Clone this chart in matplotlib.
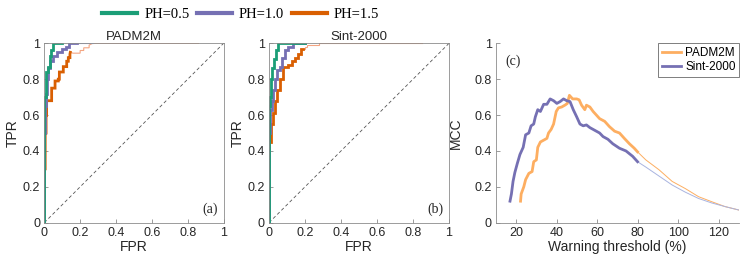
import matplotlib
matplotlib.use("Agg")
import matplotlib.pyplot as plt
from matplotlib.lines import Line2D

plt.rcParams["font.family"] = ["Liberation Sans", "DejaVu Sans"]

# ---- ROC data, PADM2M (a): thick part, then thin continuation ----
a_g_fpr = [0, 0, 0.007, 0.007, 0.02, 0.02, 0.03, 0.03, 0.04, 0.04, 0.05, 0.05, 0.10]
a_g_tpr = [0, 0.70, 0.70, 0.84, 0.84, 0.87, 0.87, 0.93, 0.93, 0.96, 0.96, 1.0, 1.0]
a_p_fpr = [0, 0, 0.005, 0.005, 0.01, 0.01, 0.015, 0.015, 0.02, 0.02, 0.03, 0.03, 0.05, 0.05,
           0.07, 0.07, 0.10, 0.10, 0.12, 0.12, 0.14, 0.14, 0.18]
a_p_tpr = [0, 0.50, 0.50, 0.65, 0.65, 0.72, 0.72, 0.80, 0.80, 0.86, 0.86, 0.90, 0.90, 0.93,
           0.93, 0.95, 0.95, 0.97, 0.97, 0.98, 0.98, 1.0, 1.0]
a_p_thin_fpr = [0.18, 0.27]
a_p_thin_tpr = [1.0, 1.0]
a_o_fpr = [0, 0, 0.005, 0.005, 0.01, 0.01, 0.013, 0.013, 0.041, 0.041, 0.06, 0.06, 0.078, 0.078,
           0.084, 0.084, 0.106, 0.106, 0.125, 0.125, 0.134, 0.134, 0.143, 0.143, 0.145]
a_o_tpr = [0, 0.30, 0.30, 0.50, 0.50, 0.60, 0.60, 0.68, 0.68, 0.75, 0.75, 0.79, 0.79, 0.80,
           0.80, 0.84, 0.84, 0.87, 0.87, 0.90, 0.90, 0.92, 0.92, 0.94, 0.95]
a_o_thin_fpr = [0.145, 0.16, 0.20, 0.20, 0.22, 0.22, 0.25, 0.25, 0.27, 0.86]
a_o_thin_tpr = [0.95, 0.945, 0.945, 0.96, 0.96, 0.975, 0.975, 0.99, 1.0, 1.0]

# ---- ROC data, Sint-2000 (b) ----
b_g_fpr = [0, 0, 0.006, 0.006, 0.011, 0.011, 0.017, 0.017, 0.028, 0.028, 0.039, 0.039, 0.052, 0.052, 0.20]
b_g_tpr = [0, 0.65, 0.65, 0.70, 0.70, 0.80, 0.80, 0.86, 0.86, 0.91, 0.91, 0.96, 0.96, 1.0, 1.0]
b_p_fpr = [0, 0, 0.006, 0.006, 0.015, 0.015, 0.024, 0.024, 0.033, 0.033, 0.043, 0.043, 0.06, 0.06,
           0.07, 0.07, 0.09, 0.09, 0.107, 0.107, 0.135, 0.135, 0.20]
b_p_tpr = [0, 0.50, 0.50, 0.63, 0.63, 0.68, 0.68, 0.74, 0.74, 0.80, 0.80, 0.85, 0.85, 0.87,
           0.87, 0.92, 0.92, 0.96, 0.96, 0.98, 0.98, 1.0, 1.0]
b_o_fpr = [0, 0, 0.009, 0.009, 0.02, 0.02, 0.033, 0.033, 0.043, 0.043, 0.06, 0.06, 0.08, 0.08,
           0.107, 0.107, 0.126, 0.126, 0.144, 0.144, 0.163, 0.163, 0.18, 0.18, 0.19]
b_o_tpr = [0, 0.45, 0.45, 0.55, 0.55, 0.61, 0.61, 0.68, 0.68, 0.74, 0.74, 0.80, 0.80, 0.87,
           0.87, 0.88, 0.88, 0.90, 0.90, 0.92, 0.92, 0.94, 0.94, 0.97, 0.97]
b_o_thin_fpr = [0.19, 0.20, 0.20, 0.21, 0.21, 0.28, 0.28, 0.85]
b_o_thin_tpr = [0.97, 0.97, 0.98, 0.98, 0.99, 0.99, 1.0, 1.0]

# ---- MCC vs warning threshold (c) ----
sint_thr = [16.9, 17.6, 18.4, 19.3, 20.5, 21.8, 23.4, 24.6, 26.2, 27.3, 28.6, 29.4, 30.6, 31.9,
            33.5, 35.1, 36.7, 38.4, 40.0, 41.6, 43.3, 44.9, 46.5, 48.1, 49.8, 51.4, 53.0, 54.6,
            56.3, 57.9, 59.5, 61.1, 62.8, 65.2, 67.6, 70.9, 74.1, 77.4, 79.8]
sint_mcc = [0.12, 0.16, 0.23, 0.28, 0.33, 0.38, 0.42, 0.49, 0.50, 0.54, 0.55, 0.59, 0.63, 0.62,
            0.66, 0.66, 0.69, 0.68, 0.665, 0.675, 0.69, 0.68, 0.675, 0.63, 0.59, 0.55, 0.54, 0.545,
            0.53, 0.52, 0.51, 0.50, 0.48, 0.465, 0.44, 0.415, 0.40, 0.37, 0.34]
sint_thin_thr = [79.8, 83.9, 90.4, 96.9, 103.4, 109.9, 116.4, 122.9, 130.0]
sint_thin_mcc = [0.34, 0.31, 0.26, 0.21, 0.17, 0.135, 0.11, 0.09, 0.07]
padm_thr = [22.1, 22.4, 23.7, 24.6, 26.2, 27.8, 28.6, 29.9, 30.6, 31.9, 33.5, 35.1, 35.9, 37.2,
            38.4, 39.7, 40.8, 42.4, 44.1, 45.2, 46.2, 47.8, 49.8, 51.0, 52.2, 53.8, 54.6, 56.3,
            57.9, 59.5, 61.1, 63.6, 66.0, 68.5, 70.9, 73.3, 75.8, 78.2, 79.8]
padm_mcc = [0.12, 0.16, 0.20, 0.24, 0.275, 0.285, 0.34, 0.35, 0.42, 0.45, 0.46, 0.47, 0.50, 0.52,
            0.55, 0.62, 0.64, 0.645, 0.656, 0.665, 0.71, 0.69, 0.69, 0.685, 0.655, 0.63, 0.655, 0.645,
            0.62, 0.60, 0.58, 0.565, 0.535, 0.51, 0.50, 0.47, 0.44, 0.415, 0.395]
padm_thin_thr = [79.8, 83.9, 90.4, 96.9, 103.4, 109.9, 116.4, 122.9, 130.0]
padm_thin_mcc = [0.395, 0.35, 0.295, 0.23, 0.19, 0.145, 0.117, 0.09, 0.07]

legend_labels = ["PH=0.5", "PH=1.0", "PH=1.5"]
roc_ticks = [0, 0.2, 0.4, 0.6, 0.8, 1]
roc_ticklabels = ["0", "0.2", "0.4", "0.6", "0.8", "1"]

GREEN, PURPLE, ORANGE = "#1b9e77", "#7570b3", "#d95f02"
LPURPLE, LORANGE = "#a9b4e0", "#f4a582"
C_ORANGE = "#fdae61"
SPINE = "#8c8c8c"
TXT = "#262626"
LW = 2.0

fig = plt.figure(figsize=(7.47, 2.66), dpi=100)
ax_a = fig.add_axes([0.0593, 0.1628, 0.2400, 0.6744])
ax_b = fig.add_axes([0.3601, 0.1628, 0.2410, 0.6744])
ax_c = fig.add_axes([0.6640, 0.1628, 0.3257, 0.6744])


def style_axes(ax, box=True):
    ax.tick_params(direction="in", length=3, width=0.6, colors=SPINE,
                   labelcolor=TXT, labelsize=9, pad=3)
    for name, sp in ax.spines.items():
        sp.set_color(SPINE)
        sp.set_linewidth(0.6)
        if not box and name in ("top", "right"):
            sp.set_visible(False)


def roc_panel(ax, curves, title, tag):
    ax.plot([0, 1], [0, 1], ls=(0, (4, 3)), color="#555555", lw=0.6)
    for fpr, tpr, col, lw in curves:
        ax.plot(fpr, tpr, color=col, lw=lw, solid_joinstyle="miter")
    ax.set_xlim(0, 1)
    ax.set_ylim(0, 1)
    ax.set_xticks(roc_ticks)
    ax.set_xticklabels(roc_ticklabels)
    ax.set_yticks(roc_ticks)
    ax.set_yticklabels(roc_ticklabels)
    ax.set_xlabel("FPR", fontsize=10, color=TXT, labelpad=1)
    ax.set_ylabel("TPR", fontsize=10, color=TXT, labelpad=2)
    ax.set_title(title, fontsize=9.5, color=TXT, pad=2)
    ax.text(0.97, 0.04, tag, transform=ax.transAxes, ha="right", va="bottom",
            fontsize=10, family=["Liberation Serif", "DejaVu Serif"], color=TXT)
    style_axes(ax)


roc_panel(ax_a, [
    (a_o_thin_fpr, a_o_thin_tpr, LORANGE, 0.8),
    (a_p_thin_fpr, a_p_thin_tpr, LPURPLE, 0.8),
    (a_o_fpr, a_o_tpr, ORANGE, LW),
    (a_p_fpr, a_p_tpr, PURPLE, LW),
    (a_g_fpr, a_g_tpr, GREEN, LW),
], "PADM2M", "(a)")

roc_panel(ax_b, [
    (b_o_thin_fpr, b_o_thin_tpr, LORANGE, 0.8),
    (b_o_fpr, b_o_tpr, ORANGE, LW),
    (b_p_fpr, b_p_tpr, PURPLE, LW),
    (b_g_fpr, b_g_tpr, GREEN, LW),
], "Sint-2000", "(b)")

# panel (c)
ax_c.plot(padm_thin_thr, padm_thin_mcc, color=C_ORANGE, lw=0.7)
ax_c.plot(sint_thin_thr, sint_thin_mcc, color=LPURPLE, lw=0.7)
l1, = ax_c.plot(padm_thr, padm_mcc, color=C_ORANGE, lw=LW, label="PADM2M")
l2, = ax_c.plot(sint_thr, sint_mcc, color=PURPLE, lw=LW, label="Sint-2000")
ax_c.set_xlim(10, 130)
ax_c.set_ylim(0, 1)
ax_c.set_xticks([20, 40, 60, 80, 100, 120])
ax_c.set_yticks(roc_ticks)
ax_c.set_yticklabels(roc_ticklabels)
ax_c.set_xlabel("Warning threshold (%)", fontsize=10, color=TXT, labelpad=1)
ax_c.set_ylabel("MCC", fontsize=10, color=TXT, labelpad=8)
ax_c.text(0.04, 0.94, "(c)", transform=ax_c.transAxes, ha="left", va="top",
          fontsize=10, family=["Liberation Serif", "DejaVu Serif"], color=TXT)
style_axes(ax_c, box=False)
leg_c = ax_c.legend(handles=[l1, l2], loc="upper right", fontsize=8.5, frameon=True,
                    fancybox=False, handlelength=1.6, handletextpad=0.4,
                    borderpad=0.3, labelspacing=0.2, borderaxespad=0.0)
leg_c.get_frame().set_edgecolor("#444444")
leg_c.get_frame().set_linewidth(0.6)

# top legend for PH
handles = [Line2D([], [], color=c, lw=3) for c in (GREEN, PURPLE, ORANGE)]
fig.legend(handles, legend_labels, loc="center", bbox_to_anchor=(0.322, 0.945), ncol=3,
           frameon=False, handlelength=2.4, handletextpad=0.5, columnspacing=0.5,
           prop={"family": ["Liberation Serif", "DejaVu Serif"], "size": 10.5})

fig.savefig("out.png", dpi=100)
